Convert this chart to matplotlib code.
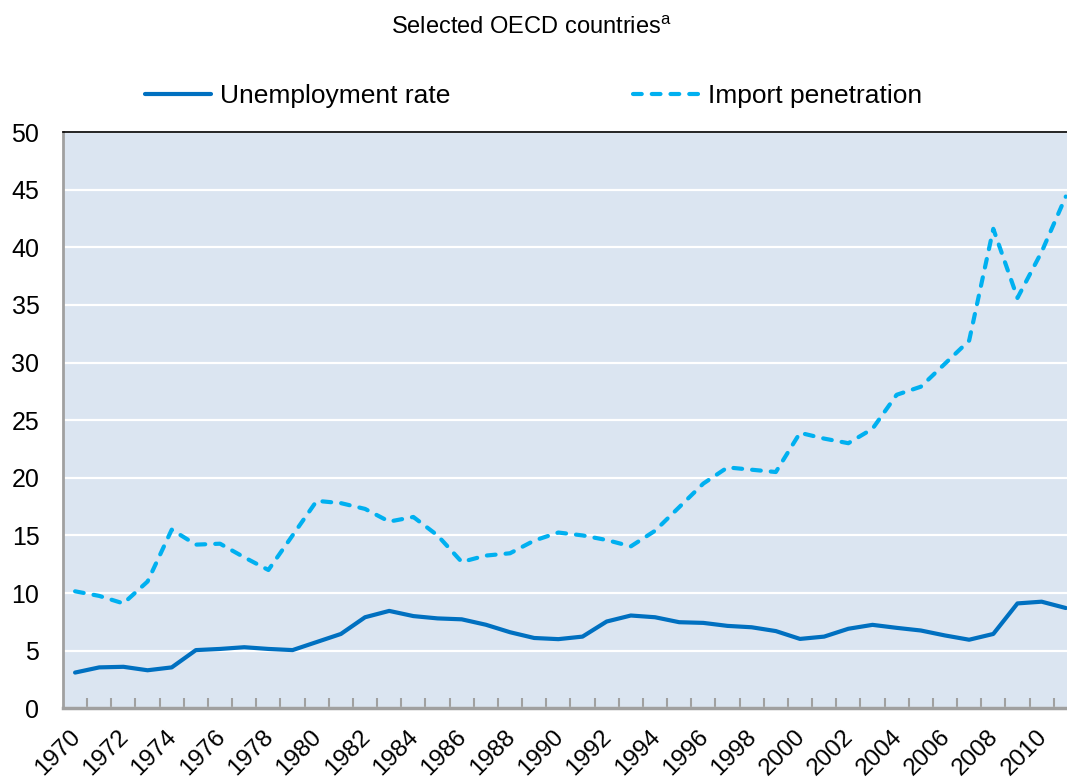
import matplotlib
matplotlib.use("Agg")
import matplotlib.pyplot as plt
from matplotlib.ticker import FixedLocator, MultipleLocator

plt.rcParams['font.family'] = ['Liberation Sans', 'DejaVu Sans']
plt.rcParams['mathtext.fontset'] = 'custom'
plt.rcParams['mathtext.rm'] = 'Liberation Sans'

years = list(range(1970, 2012))

unemployment = [3.1, 3.55, 3.6, 3.3, 3.55, 5.05, 5.15, 5.3, 5.15, 5.05,
                5.75, 6.45, 7.9, 8.45, 8.0, 7.8, 7.72, 7.25, 6.6, 6.1,
                6.0, 6.22, 7.53, 8.05, 7.9, 7.47, 7.41, 7.15, 7.03, 6.7,
                6.02, 6.22, 6.9, 7.24, 6.98, 6.75, 6.32, 5.95, 6.45, 9.1,
                9.25, 8.7]

import_penetration = [10.15, 9.75, 9.1, 11.0, 15.5, 14.2, 14.28, 13.1, 12.0, 15.0,
                      18.0, 17.8, 17.3, 16.2, 16.6, 15.0, 12.7, 13.25, 13.45, 14.55,
                      15.25, 15.0, 14.6, 14.05, 15.4, 17.45, 19.5, 20.9, 20.7, 20.5,
                      23.9, 23.4, 23.0, 24.25, 27.2, 27.9, 29.9, 31.9, 41.6, 35.6,
                      39.6, 44.4]

label_years = years[::2]

bg = '#DBE5F1'
c_unemp = '#0070C0'
c_import = '#00B0F0'

fig = plt.figure(figsize=(10.67, 7.78), dpi=100)
W, H = 1067, 778
ax = fig.add_axes([63 / W, (H - 708.3) / H, (W - 63) / W, (708.3 - 132) / H])
ax.set_facecolor(bg)

ax.plot(years, unemployment, color=c_unemp, lw=3.0, solid_joinstyle='round',
        solid_capstyle='round', label='Unemployment rate', zorder=3)
ax.plot(years, import_penetration, color=c_import, lw=3.0, dashes=(2.1, 2.4),
        dash_capstyle='round', dash_joinstyle='round',
        label='Import penetration', zorder=3)

ax.set_ylim(0, 50)
ax.set_xlim(1969.5, 2011.05)
ax.yaxis.set_major_locator(MultipleLocator(5))
ax.grid(axis='y', color='white', lw=1.6, zorder=1)
ax.set_axisbelow(True)

ax.set_xticks(label_years)
ax.set_xticklabels([str(y) for y in label_years], rotation=45, ha='right',
                   va='center_baseline', rotation_mode='anchor', fontsize=17.5)
ax.xaxis.set_minor_locator(FixedLocator([y + 0.5 for y in years]))
ax.tick_params(axis='x', which='major', length=0, pad=17)
ax.tick_params(axis='x', which='minor', direction='in', length=7, width=1.5,
               color='#A0A0A0')
ax.tick_params(axis='y', length=0, pad=17, labelsize=18)

for s in ['left', 'bottom']:
    ax.spines[s].set_color('#A0A0A0')
ax.spines['left'].set_linewidth(2)
ax.spines['bottom'].set_linewidth(2.5)
ax.spines['top'].set_color('black')
ax.spines['top'].set_linewidth(1.2)
ax.spines['right'].set_visible(False)

fig.legend(loc='center', bbox_to_anchor=(0.5, 1 - 96 / H), ncol=2, frameon=False,
           fontsize=19, handlelength=2.5, handletextpad=0.34, columnspacing=6.9)

fig.text(531 / W, 1 - 28 / H, r'Selected OECD countries$^{\mathrm{a}}$',
         ha='center', va='center', fontsize=17)

fig.savefig('out.png', dpi=100)
